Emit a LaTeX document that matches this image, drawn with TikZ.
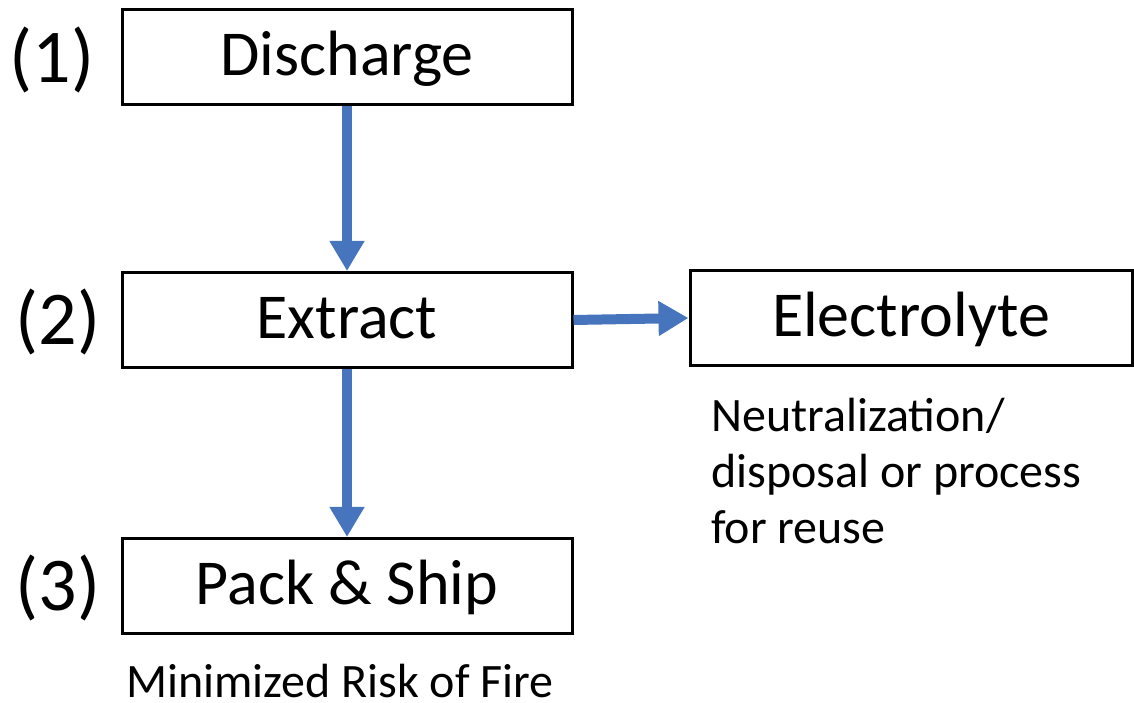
\documentclass[tikz,border=0pt]{standalone}
\usepackage{fontspec}
\setmainfont{Carlito}
\usetikzlibrary{arrows.meta}
\definecolor{flowblue}{RGB}{70,117,189}
\begin{document}
\begin{tikzpicture}[x=1pt,y=1pt,
  stepbox/.style={draw=black,line width=3pt,minimum width=450pt,minimum height=95pt,inner sep=0pt,font=\fontsize{64}{72}\selectfont,text height=44pt,text depth=6pt},
  num/.style={font=\fontsize{76}{80}\selectfont,inner sep=0pt},
  note/.style={font=\fontsize{48}{56}\selectfont,inner sep=0pt},
  flow/.style={draw=flowblue,line width=10pt,-{Triangle[length=30pt,width=33pt]}}]
\useasboundingbox (0,0) rectangle (1134,703);
\node[stepbox] (dis) at (347,646) {Discharge};
\node[stepbox] (ext) at (347,383) {Extract};
\node[stepbox] (pack) at (347,117) {Pack \& Ship};
\node[stepbox,minimum width=442pt] (ele) at (911,385) {Electrolyte};
\node[num] (n1) at (52,643) {(1)};
\node[num] (n2) at (58,381) {(2)};
\node[num] (n3) at (58,115) {(3)};
\node[note,align=left,anchor=north west] (neu) at (711,305) {Neutralization/\\disposal or process\\for reuse};
\node[note,anchor=base,text depth=0pt] (risk) at (340,5) {Minimized Risk of Fire};
\draw[flow] (dis.south) -- (ext.north);
\draw[flow] (ext.south) -- (pack.north);
\draw[flow] (ext.east) -- (ele.west);
\end{tikzpicture}
\end{document}
